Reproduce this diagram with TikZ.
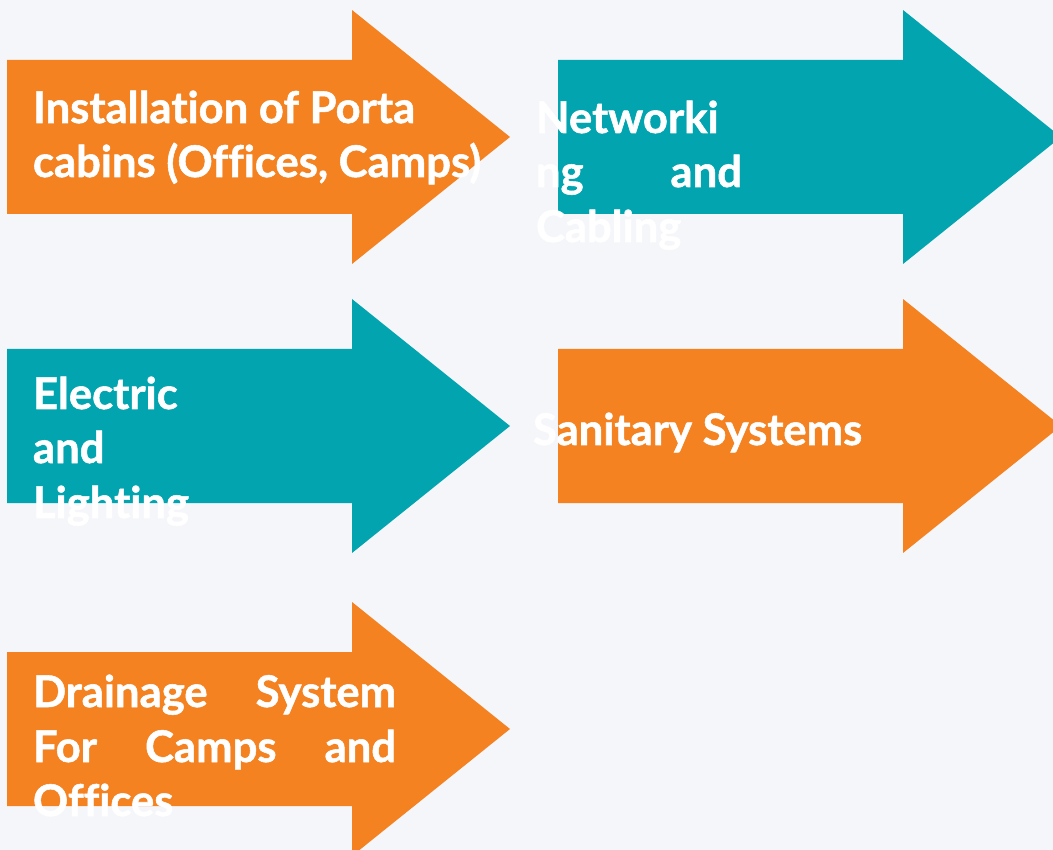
\documentclass[tikz,border=0pt]{standalone}
\usepackage{fontspec}
\setmainfont{Lato}[Ligatures=NoCommon,BoldFeatures={FakeBold=1.2}]
\definecolor{bgc}{HTML}{F5F6FA}
\definecolor{orng}{HTML}{F58220}
\definecolor{teal2}{HTML}{02A5AF}
\newcommand\bigarrow[3]{%
  \fill[#3] (#1,#2-77) -- (#1+345,#2-77) -- (#1+345,#2-127) -- (#1+503,#2) -- (#1+345,#2+127) -- (#1+345,#2+77) -- (#1,#2+77) -- cycle;}
\tikzset{lbl/.style={anchor=base west,inner sep=0pt,outer sep=0pt,text=white,font=\fontsize{43.6}{55}\selectfont\bfseries}}
\begin{document}
\begin{tikzpicture}[x=1pt,y=-1pt]
\useasboundingbox (0,0) rectangle (1053,850);
\clip (0,0) rectangle (1053,850);
\fill[bgc] (0,0) rectangle (1053,850);
\bigarrow{7}{137}{orng}
\bigarrow{558}{137}{teal2}
\bigarrow{7}{426}{teal2}
\bigarrow{558}{426}{orng}
\bigarrow{7}{729}{orng}
% arrow 1
\node[lbl] (a1l1) at (33,123) {Installation of Porta};
\node[lbl] (a1l2) at (33,177) {cabins (Offices, Camps)};
% arrow 2
\node[lbl] (a2l1) at (536,133) {Networki};
\node[lbl] (a2l2) at (536,187) {\hbox to 206pt{ng\hfill and}};
\node[lbl] (a2l3) at (536,242) {Cabling};
% arrow 3
\node[lbl] (a3l1) at (33,409) {Electric};
\node[lbl] (a3l2) at (33,463) {and};
\node[lbl] (a3l3) at (33,518) {Lighting};
% arrow 4
\node[lbl] (a4l1) at (533,445) {Sanitary Systems};
% arrow 5
\node[lbl] (a5l1) at (33,707) {\hbox to 363pt{Drainage\hfill System}};
\node[lbl] (a5l2) at (33,762) {\hbox to 363pt{For\hfill Camps\hfill and}};
\node[lbl] (a5l3) at (33,816) {Offices};
\end{tikzpicture}
\end{document}
